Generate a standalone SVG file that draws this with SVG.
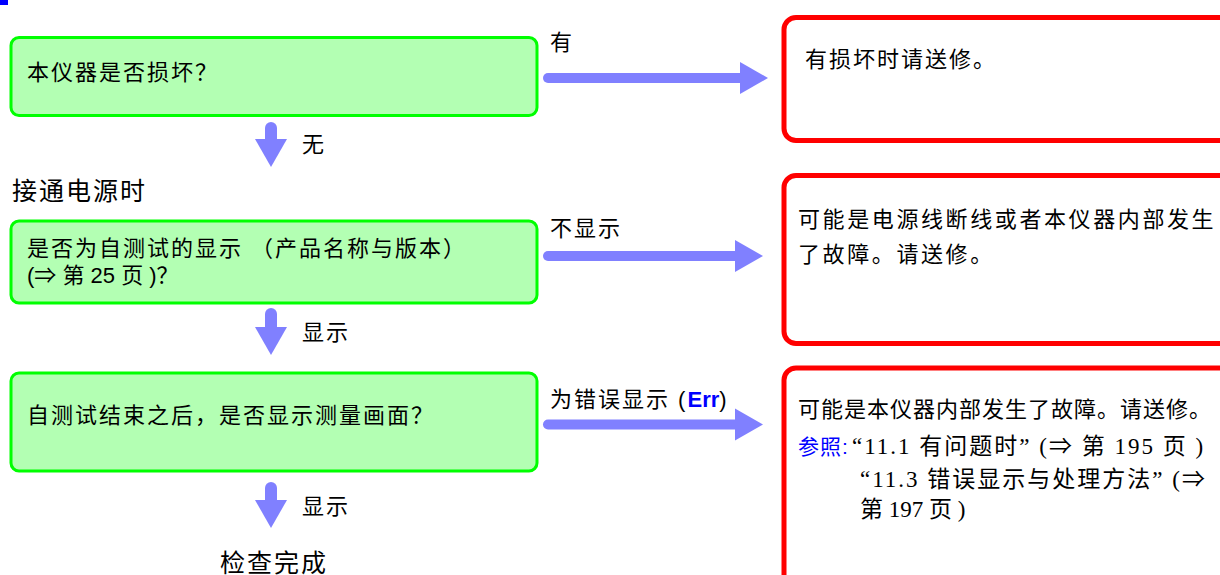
<svg xmlns="http://www.w3.org/2000/svg" width="1220" height="575" viewBox="0 0 1220 575">
<style>
.q{fill:#b3ffb3;stroke:#00ff00;stroke-width:3}
.r{fill:#ffffff;stroke:#ff0000;stroke-width:5}
.t{font-family:"Liberation Sans","Noto Sans CJK SC",sans-serif;font-size:22px;letter-spacing:2px;fill:#000}
.big{font-size:25px}
.s{font-family:"Liberation Serif","Noto Sans CJK SC",serif;font-size:23px;letter-spacing:2px;fill:#000}
.blue{fill:#0000ff}
.sh{fill:none;stroke:#8080ff;stroke-linecap:round}
.h{stroke-width:10;marker-end:url(#ah)}
.v{stroke-width:12;marker-end:url(#ah)}
</style>
<defs>
<marker id="ah" markerUnits="userSpaceOnUse" markerWidth="30" markerHeight="34" refX="0" refY="16" orient="auto" overflow="visible">
<path d="M0,0 L28,16 L0,32 Z" fill="#8080ff"/>
</marker>
</defs>
<rect x="0" y="0" width="8" height="5" fill="#0000ff"/>

<g id="q1">
<rect class="q" x="11" y="37.5" width="526" height="78" rx="8"/>
<text class="t" x="27" y="80">本仪器是否损坏？</text>
</g>
<g id="label-power">
<text class="t big" x="12" y="200">接通电源时</text>
</g>
<g id="q2">
<rect class="q" x="11" y="221" width="526" height="82" rx="8"/>
<text class="t" x="27" y="255.5">是否为自测试的显示 （产品名称与版本）</text>
<text class="t" x="27" y="283" style="letter-spacing:0">(⇒ 第 25 页 )？</text>
</g>
<g id="q3">
<rect class="q" x="11" y="373" width="526" height="98" rx="8"/>
<text class="t" x="27" y="422.5">自测试结束之后，是否显示测量画面？</text>
</g>
<g id="end">
<text class="t big" x="220" y="572">检查完成</text>
</g>

<g id="a1">
<rect class="r" x="784" y="17.5" width="460" height="123" rx="12"/>
<text class="t" x="805" y="66.5">有损坏时请送修。</text>
</g>
<g id="a2">
<rect class="r" x="784" y="175.5" width="460" height="168" rx="12"/>
<text class="t" x="798" y="226.5" style="letter-spacing:2.6px">可能是电源线断线或者本仪器内部发生</text>
<text class="t" x="798" y="261.5" style="letter-spacing:2.6px">了故障。请送修。</text>
</g>
<g id="a3">
<rect class="r" x="784" y="368" width="460" height="240" rx="12"/>
<text class="t" x="798" y="416.5" style="letter-spacing:1px">可能是本仪器内部发生了故障。请送修。</text>
<text class="t blue" x="798" y="454" style="font-size:21px;letter-spacing:1px">参照:</text>
<text class="s" x="852" y="454">“11.1  有问题时” (⇒ 第 195 页 )</text>
<text class="s" x="860" y="486.5">“11.3  错误显示与处理方法” (⇒</text>
<text class="s" x="860" y="516.5" style="letter-spacing:0">第 197 页 )</text>
</g>

<g id="connectors">
<line class="sh h" x1="548" y1="78" x2="740" y2="78"/>
<line class="sh h" x1="548" y1="256" x2="735" y2="256"/>
<line class="sh h" x1="548" y1="424.5" x2="735" y2="424.5"/>
<line class="sh v" x1="271" y1="128" x2="271" y2="139"/>
<line class="sh v" x1="271" y1="314" x2="271" y2="327"/>
<line class="sh v" x1="271" y1="488" x2="271" y2="500"/>
<text class="t" x="550" y="50">有</text>
<text class="t" x="550" y="235.5">不显示</text>
<text class="t" x="550" y="406.5">为错误显示 (<tspan class="blue" font-weight="bold" style="letter-spacing:0">Err</tspan>)</text>
<text class="t" x="302" y="151.5">无</text>
<text class="t" x="302" y="340">显示</text>
<text class="t" x="302" y="513.5">显示</text>
</g>
</svg>
